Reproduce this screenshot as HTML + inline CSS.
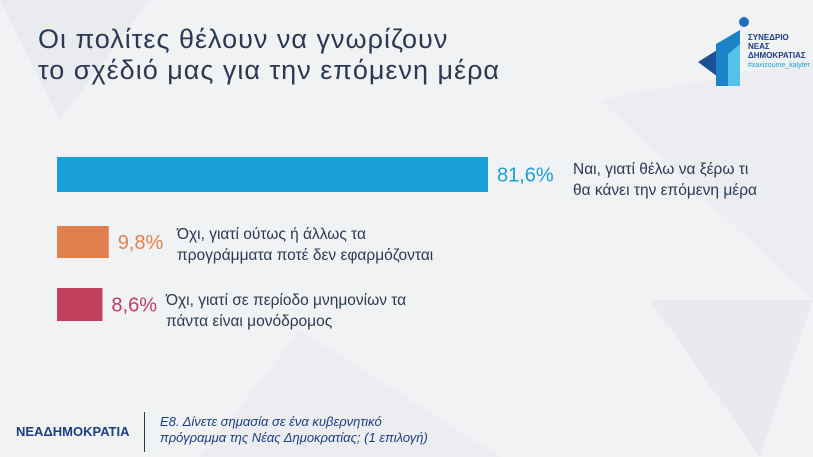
<!DOCTYPE html>
<html><head><meta charset="utf-8"><style>
body{margin:0;width:813px;height:457px;overflow:hidden;background:#f1f2f4;font-family:"Liberation Sans","DejaVu Sans",sans-serif;position:relative}
.t{position:absolute;color:#2b3954}
</style></head><body>
<svg width="813" height="457" style="position:absolute;left:0;top:0">
<polygon points="0,0 150,0 60,120" fill="#e9ebee"/>
<polygon points="600,100 813,60 813,300" fill="#ebedf0"/>
<polygon points="650,300 813,300 760,457" fill="#e8eaed"/>
<polygon points="300,330 500,457 200,457" fill="#ecedf0"/>
</svg>
<div class="t" style="left:38px;top:24px;font-size:27px;line-height:31px;letter-spacing:1px">Οι πολίτες θέλουν να γνωρίζουν<br>το σχέδιό μας για την επόμενη μέρα</div>
<svg width="120" height="80" style="position:absolute;left:690px;top:14px">
<circle cx="54" cy="8" r="5" fill="#1f6fb8"/>
<polygon points="8,48 40,28 40,72" fill="#1c4f96"/>
<polygon points="26,30 50,16 50,72 26,72" fill="#1b82c8"/>
<polygon points="38,40 50,30 50,72 38,72" fill="#57c1e8"/>
<text x="58" y="26" font-size="8" fill="#1c3f80" font-weight="bold">ΣΥΝΕΔΡΙΟ</text>
<text x="58" y="35" font-size="8" fill="#1c3f80" font-weight="bold">ΝΕΑΣ</text>
<text x="58" y="44" font-size="8" fill="#1c3f80" font-weight="bold">ΔΗΜΟΚΡΑΤΙΑΣ</text>
<text x="58" y="53" font-size="7" fill="#1aa0d8">#xaxizoume_kalytera</text>
</svg>
<svg id="chart" width="813" height="457" style="position:absolute;left:0;top:0"></svg>
<div class="t" style="left:573px;top:159px;font-size:15.5px;line-height:21px">Ναι, γιατί θέλω να ξέρω τι<br>θα κάνει την επόμενη μέρα</div>
<div class="t" style="left:177px;top:224px;font-size:15.5px;line-height:21px">Όχι, γιατί ούτως ή άλλως τα<br>προγράμματα ποτέ δεν εφαρμόζονται</div>
<div class="t" style="left:166px;top:290px;font-size:15.5px;line-height:21px">Όχι, γιατί σε περίοδο μνημονίων τα<br>πάντα είναι μονόδρομος</div>
<div class="t" style="left:16px;top:424px;font-size:13px;font-weight:bold;color:#1c3f80">ΝΕΑΔΗΜΟΚΡΑΤΙΑ</div>
<div style="position:absolute;left:144px;top:412px;width:1px;height:40px;background:#2b3954"></div>
<div class="t" style="left:160px;top:414px;font-size:13px;line-height:16px;font-style:italic;color:#1c3f80">Ε8. Δίνετε σημασία σε ένα κυβερνητικό<br>πρόγραμμα της Νέας Δημοκρατίας; (1 επιλογή)</div>
<script>
const categories=["yes","no-never-applied","no-one-way"];
const values=[81.6,9.8,8.6];
const valueLabels=["81,6%","9,8%","8,6%"];
const colors=["#1a9fd8","#e0804e","#c0405e"];
const x0=57, pxPerUnit=431/81.6;
const rows=[{y:157,h:35},{y:226,h:32},{y:288,h:33}];
const xs=v=>x0+v*pxPerUnit;
const svg=document.getElementById('chart');
const ns="http://www.w3.org/2000/svg";
values.forEach((v,i)=>{
 const r=document.createElementNS(ns,'rect');
 
 
 r.setAttribute('x',x0);r.setAttribute('y',rows[i].y);
 r.setAttribute('width',xs(v)-x0);r.setAttribute('height',rows[i].h);
 r.setAttribute('fill',colors[i]);svg.appendChild(r);
 const t=document.createElementNS(ns,'text');
 
 
 t.setAttribute('x',xs(v)+9);t.setAttribute('y',rows[i].y+rows[i].h/2+7);
 t.setAttribute('font-size','20');t.setAttribute('fill',colors[i]);
 t.textContent=valueLabels[i];svg.appendChild(t);
});
</script>
</body></html>
